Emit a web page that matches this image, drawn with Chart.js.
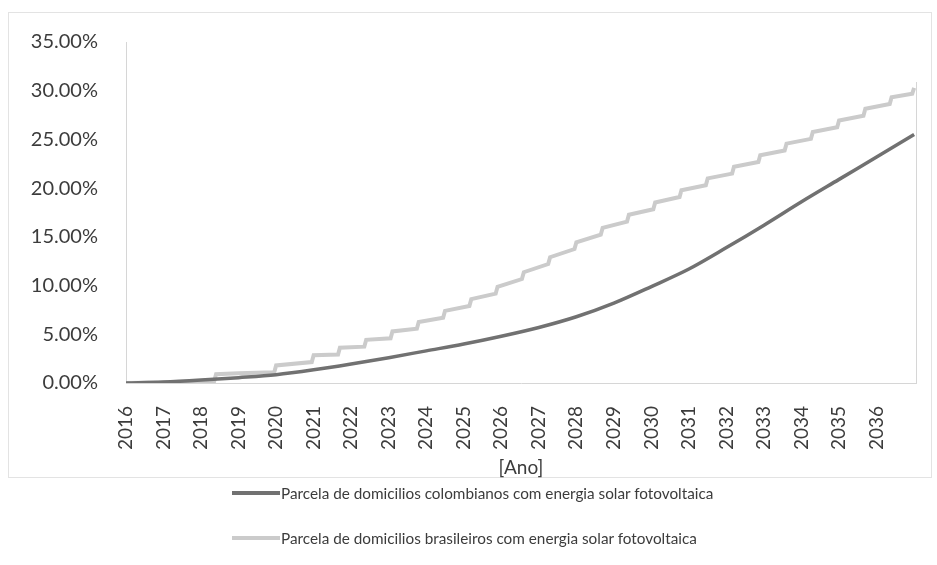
<!DOCTYPE html>
<html>
<head>
<meta charset="utf-8">
<script src="https://cdn.jsdelivr.net/npm/chart.js@4.4.1/dist/chart.umd.min.js"></script>
<style>
  html, body { margin: 0; padding: 0; background: #fff; }
  #wrap { position: relative; width: 937px; height: 565px; }
  #frame { position: absolute; left: 8px; top: 12px; width: 924px; height: 466px; border: 1px solid #e3e3e3; box-sizing: border-box; }
  #c { position: absolute; left: 0; top: 0; }
  #legend { position: absolute; left: 232px; top: 470px; font-family: Lato, sans-serif; font-size: 15.3px; color: #3c3c3c; }
  .row { display: flex; align-items: center; height: 45px; white-space: nowrap; }
  .sw { width: 48px; height: 4px; margin-right: 1px; }
</style>
</head>
<body>
<div id="wrap">
  <div id="frame"></div>
  <canvas id="c" width="937" height="482"></canvas>
  <div id="legend"></div>
</div>
<script>
// Colombia: share of households with PV (%), read at year marks
const colYears  = [2016, 2017, 2018, 2019, 2020, 2021, 2022, 2023, 2024, 2025, 2026, 2027, 2028, 2029, 2030, 2031, 2032, 2033, 2034, 2035, 2036, 2037];
const colShares = [0, 0.1, 0.3, 0.55, 0.85, 1.35, 1.95, 2.6, 3.3, 4.0, 4.8, 5.7, 6.8, 8.2, 9.9, 11.7, 13.9, 16.2, 18.6, 20.9, 23.2, 25.5];

// Brazil: stair-like curve, points at each step (before / after the jump)
const brYears = [2016, 2017, 2018.35, 2018.4, 2019, 2019.95, 2020, 2020.95, 2021,
  2021.65, 2021.7, 2022.35, 2022.4, 2023.05, 2023.1, 2023.75, 2023.8, 2024.45, 2024.5,
  2025.15, 2025.2, 2025.85, 2025.9, 2026.55, 2026.6, 2027.25, 2027.3, 2027.95, 2028,
  2028.65, 2028.7, 2029.35, 2029.4, 2030.05, 2030.1, 2030.75, 2030.8, 2031.45, 2031.5,
  2032.15, 2032.2, 2032.85, 2032.9, 2033.55, 2033.6, 2034.25, 2034.3, 2034.95, 2035,
  2035.65, 2035.7, 2036.35, 2036.4, 2036.95, 2037];
const brShares = [0, 0.05, 0.2, 0.9, 1.0, 1.1, 1.8, 2.15, 2.85,
  2.92, 3.62, 3.73, 4.43, 4.59, 5.29, 5.57, 6.27, 6.7, 7.4,
  7.91, 8.61, 9.17, 9.87, 10.67, 11.37, 12.21, 12.91, 13.75, 14.45,
  15.22, 15.92, 16.57, 17.27, 17.83, 18.53, 19.09, 19.79, 20.3, 21.0,
  21.49, 22.19, 22.68, 23.38, 23.87, 24.57, 25.06, 25.76, 26.25, 26.95,
  27.44, 28.14, 28.63, 29.33, 29.7, 30.3];

const seriesNames = [
  'Parcela de domicilios colombianos com energia solar fotovoltaica',
  'Parcela de domicilios brasileiros com energia solar fotovoltaica'
];
const seriesColors = ['#717171', '#cbcbcb'];
const xTitle = '[Ano]';
const firstYear = 2016, lastLabelYear = 2036;
const yMax = 35, yStep = 5;

const txt = '#3c3c3c';
const axisGray = '#d6d6d6';

// right edge of the plot area
const plotFrame = {
  id: 'plotFrame',
  afterDraw(chart) {
    const { ctx, chartArea: a } = chart;
    ctx.save();
    ctx.strokeStyle = axisGray;
    ctx.lineWidth = 1;
    ctx.beginPath();
    ctx.moveTo(Math.round(a.right) + 0.5, a.top + 40);
    ctx.lineTo(Math.round(a.right) + 0.5, a.bottom);
    ctx.stroke();
    ctx.restore();
  }
};

new Chart(document.getElementById('c').getContext('2d'), {
  type: 'line',
  data: {
    datasets: [
      {
        label: seriesNames[0],
        data: colYears.map((x, i) => ({ x, y: colShares[i] })),
        borderColor: seriesColors[0],
        borderWidth: 3.5,
        pointRadius: 0,
        cubicInterpolationMode: 'monotone',
        fill: false
      },
      {
        label: seriesNames[1],
        data: brYears.map((x, i) => ({ x, y: brShares[i] })),
        borderColor: seriesColors[1],
        borderWidth: 4,
        pointRadius: 0,
        tension: 0,
        fill: false
      }
    ]
  },
  options: {
    responsive: false,
    animation: false,
    layout: { padding: { left: 10, right: 21, top: 42, bottom: 0 } },
    plugins: { legend: { display: false }, tooltip: { enabled: false } },
    scales: {
      x: {
        type: 'linear',
        min: firstYear,
        max: 2037.05,
        grid: { display: false },
        border: { display: true, color: axisGray, width: 1 },
        ticks: {
          stepSize: 1,
          autoSkip: false,
          minRotation: 90,
          maxRotation: 90,
          padding: 15,
          color: txt,
          font: { family: 'Lato', size: 19 },
          callback: v => (v <= lastLabelYear && Number.isInteger(Math.round(v * 1000) / 1000)) ? String(Math.round(v)) : ''
        },
        title: {
          display: true,
          text: xTitle,
          color: txt,
          font: { family: 'Lato', size: 19 },
          padding: { top: 0, bottom: 3 }
        },
        afterFit: s => { s.height = 99; s.paddingRight = 0; s.paddingLeft = 0; }
      },
      y: {
        min: 0,
        max: yMax,
        grid: { display: false },
        border: { display: true, color: axisGray, width: 1 },
        ticks: {
          stepSize: yStep,
          padding: 20,
          color: txt,
          font: { family: 'Lato', size: 20 },
          callback: v => v.toFixed(2) + '%'
        },
        afterFit: s => { s.width = 116; }
      }
    }
  },
  plugins: [plotFrame]
});

// legend as two stacked rows, line swatch touching the text
document.getElementById('legend').innerHTML = seriesNames.map((n, i) => `
  <div class="row"><span class="sw" style="background:${seriesColors[i]}"></span><span>${n}</span></div>
`).join('');
</script>
</body>
</html>
